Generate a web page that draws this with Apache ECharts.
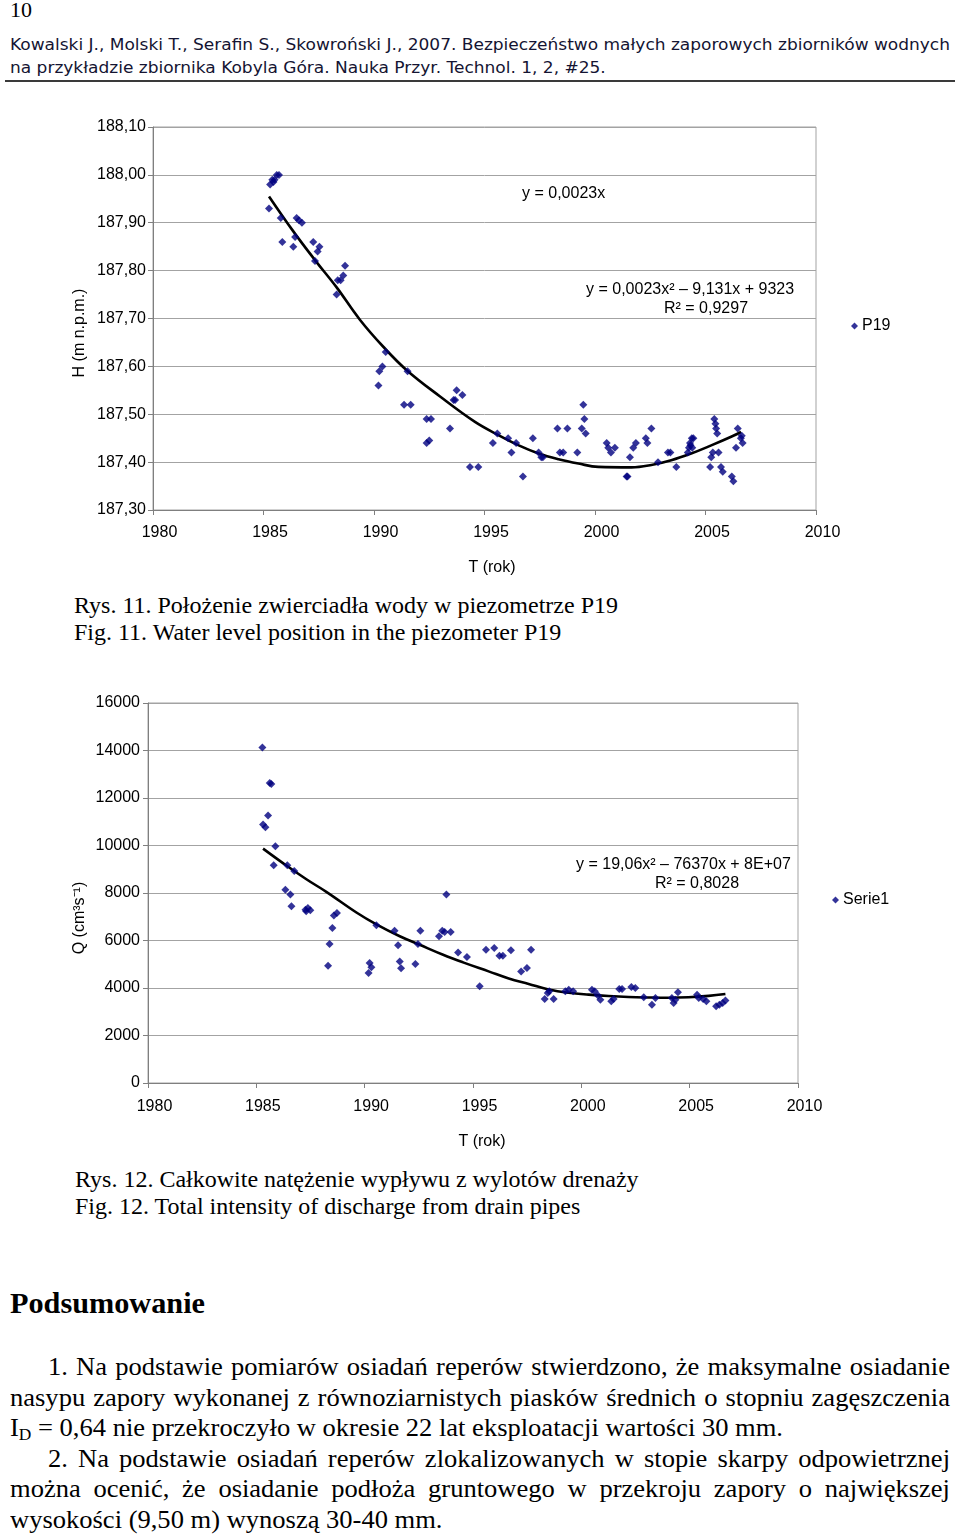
<!DOCTYPE html>
<html><head><meta charset="utf-8">
<script src="https://cdn.jsdelivr.net/npm/echarts@6/dist/echarts.min.js"></script>
<style>
html,body{margin:0;padding:0;background:#fff;}
body{width:960px;height:1537px;position:relative;overflow:hidden;}
.t{position:absolute;white-space:nowrap;color:#000;transform-origin:0 0;}
.serif{font-family:"Liberation Serif","Times New Roman",serif;}
.sans{font-family:"DejaVu Sans",Verdana,sans-serif;color:#141432;}
.chart{position:absolute;left:0;width:960px;}
</style></head>
<body>
<div class="t serif" id="pg" style="left:10px;top:-3px;font-size:22px;line-height:26px;">10</div>
<div class="t sans" id="h1" style="left:10px;top:35px;font-size:16px;line-height:20px;">Kowalski J., Molski T., Serafin S., Skowroński J., 2007. Bezpieczeństwo małych zaporowych zbiorników wodnych</div>
<div class="t sans" id="h2" style="left:10px;top:58px;font-size:16px;line-height:20px;">na przykładzie zbiornika Kobyla Góra. Nauka Przyr. Technol. 1, 2, #25.</div>
<div style="position:absolute;left:5px;top:80px;width:950px;height:2px;background:#3a3a3a;"></div>

<div class="chart" id="c1" style="top:100px;height:490px;"></div>
<div class="t serif" id="r11" style="left:74px;top:592px;font-size:23px;line-height:28px;">Rys. 11. Położenie zwierciadła wody w piezometrze P19</div>
<div class="t serif" id="f11" style="left:74px;top:619px;font-size:23px;line-height:28px;">Fig. 11. Water level position in the piezometer P19</div>

<div class="chart" id="c2" style="top:690px;height:470px;"></div>
<div class="t serif" id="r12" style="left:75px;top:1166px;font-size:23px;line-height:28px;">Rys. 12. Całkowite natężenie wypływu z wylotów drenaży</div>
<div class="t serif" id="f12" style="left:75px;top:1193px;font-size:23px;line-height:28px;">Fig. 12. Total intensity of discharge from drain pipes</div>

<div class="t serif" id="pod" style="left:10px;top:1286px;font-size:29px;line-height:34px;font-weight:bold;">Podsumowanie</div>
<div class="t serif bl" id="b1" data-x="48" data-w="902" data-j="1" style="top:1351px;">1. Na podstawie pomiarów osiadań reperów stwierdzono, że maksymalne osiadanie</div>
<div class="t serif bl" id="b2" data-x="10" data-w="940" data-j="1" style="top:1382px;">nasypu zapory wykonanej z równoziarnistych piasków średnich o stopniu zagęszczenia</div>
<div class="t serif bl" id="b3" data-x="10" data-w="773" data-j="0" style="top:1412px;">I<sub style="font-size:17px;vertical-align:-4px;line-height:0">D</sub> = 0,64 nie przekroczyło w okresie 22 lat eksploatacji wartości 30 mm.</div>
<div class="t serif bl" id="b4" data-x="48" data-w="902" data-j="1" style="top:1443px;">2. Na podstawie osiadań reperów zlokalizowanych w stopie skarpy odpowietrznej</div>
<div class="t serif bl" id="b5" data-x="10" data-w="940" data-j="1" style="top:1473px;">można ocenić, że osiadanie podłoża gruntowego w przekroju zapory o największej</div>
<div class="t serif bl" id="b6" data-x="10" data-w="431" data-j="0" style="top:1504px;">wysokości (9,50 m) wynoszą 30-40 mm.</div>

<script>
// ---------- Chart 1 data: water level in piezometer P19 ----------
const p19Years = [1985.3,1985.4,1985.5,1985.6,1985.7,1985.45,1985.25,1985.78,1985.85,1986.5,1986.6,1986.74,1986.43,1986.35,1987.25,1987.53,1987.45,1987.33,1988.69,1988.61,1988.49,1988.36,1988.31,1990.53,1990.38,1990.24,1990.2,1991.52,1991.36,1991.66,1992.38,1992.58,1992.5,1992.38,1993.44,1993.74,1994.0,1993.6,1993.67,1994.34,1994.72,1995.38,1995.58,1996.07,1996.22,1996.43,1996.74,1997.19,1997.45,1997.57,1997.64,1998.3,1998.41,1998.56,1998.75,1999.2,1999.47,1999.52,1999.4,1999.58,2000.53,2000.6,2000.72,2000.9,2001.43,2001.47,2001.58,2001.73,2001.85,2002.3,2002.37,2002.55,2002.85,2003.3,2003.41,2003.68,2004.2,2004.25,2004.3,2004.38,2004.45,2004.32,2004.4,2005.21,2005.26,2005.33,2005.4,2005.45,2005.48,2005.53,2005.59,2005.7,2005.78,2006.19,2006.26,2006.38,2006.46,2006.6,2006.68,2006.64];
const p19Level = [187.98,187.99,187.99,188.00,188.00,187.985,187.93,187.91,187.86,187.91,187.905,187.90,187.87,187.85,187.86,187.85,187.84,187.82,187.81,187.79,187.78,187.78,187.75,187.63,187.60,187.59,187.56,187.59,187.52,187.52,187.49,187.49,187.445,187.44,187.47,187.55,187.54,187.53,187.53,187.39,187.39,187.44,187.46,187.45,187.42,187.44,187.37,187.45,187.42,187.41,187.41,187.47,187.42,187.42,187.47,187.42,187.52,187.49,187.47,187.46,187.44,187.43,187.42,187.43,187.37,187.37,187.41,187.43,187.44,187.45,187.44,187.47,187.40,187.42,187.42,187.39,187.42,187.43,187.44,187.45,187.45,187.435,187.43,187.39,187.41,187.42,187.49,187.48,187.47,187.46,187.42,187.39,187.38,187.37,187.36,187.43,187.47,187.45,187.44,187.455];
const trend1Years = [1985.25,1986.35,1987.33,1988.31,1989.37,1990.42,1991.48,1992.99,1994.57,1995.65,1996.55,1997.45,1998.35,1999.25,2000.15,2001.65,2002.55,2003.45,2004.35,2005.26,2006.16,2006.61];
const trend1Level = [187.955,187.882,187.822,187.765,187.697,187.641,187.592,187.537,187.484,187.456,187.435,187.418,187.406,187.397,187.390,187.389,187.394,187.404,187.418,187.435,187.453,187.463];
const yTicks1 = ['188,10','188,00','187,90','187,80','187,70','187,60','187,50','187,40','187,30'];

// ---------- Chart 2 data: discharge from drain pipes ----------
const q1Years = [1985.28,1985.62,1985.69,1985.54,1985.31,1985.42,1985.88,1985.8,1986.43,1986.75,1986.34,1986.57,1986.62,1987.3,1987.38,1987.49,1987.27,1988.72,1988.58,1988.51,1988.38,1988.31,1990.23,1990.31,1990.18,1990.54,1991.38,1991.54,1991.62,1991.68,1992.46,1992.34,1992.57,1993.43,1993.58,1993.69,1993.97,1993.77,1994.31,1994.72,1995.31,1995.6,1995.98,1996.22,1996.38,1996.75,1997.22,1997.49,1997.68,1998.31,1998.45,1998.52,1998.72,1999.26,1999.42,1999.62,2000.49,2000.62,2000.77,2000.88,2001.38,2001.49,2001.75,2001.88,2002.31,2002.49,2002.88,2003.26,2003.42,2004.18,2004.26,2004.34,2004.46,2005.34,2005.42,2005.62,2005.77,2006.22,2006.37,2006.52,2006.65];
const q1Flow = [14130,12630,12590,11260,10880,10770,9970,9170,9170,8930,8140,7940,7440,7230,7370,7270,7300,7160,7050,6530,5850,4940,5050,4870,4630,6640,6410,5800,5120,4830,5850,5010,6410,6180,6410,6360,6360,7940,5500,5310,4070,5610,5680,5360,5360,5590,4700,4840,5610,3540,3790,3860,3540,3860,3930,3860,3930,3860,3680,3510,3440,3540,3960,3960,4040,4000,3610,3300,3580,3580,3370,3510,3820,3720,3580,3540,3440,3230,3300,3370,3470];
const trend2Years = [1985.31,1986.23,1987.31,1988.23,1989.62,1990.54,1991.62,1992.54,1993.62,1994.54,1995.72,1996.65,1997.57,1998.49,1999.42,2000.34,2001.26,2002.18,2003.11,2004.03,2004.95,2005.88,2006.65];
const trend2Flow = [9870,9260,8580,8050,7180,6680,6180,5820,5400,5080,4700,4400,4170,3940,3800,3720,3660,3620,3600,3590,3610,3670,3750];
const yTicks2 = ['16000','14000','12000','10000','8000','6000','4000','2000','0'];
const xTicks = ['1980','1985','1990','1995','2000','2005','2010'];

const zip = (a,b) => a.map((v,i)=>[v,b[i]]);
const FONT = '"Liberation Sans", Arial, sans-serif';
const GRID = '#a3a3a3', AXIS = '#7f7f7f';
const FS = 16;

function baseOpt(o){
  return {
    animation:false,
    textStyle:{fontFamily:FONT,color:'#000'},
    grid:{left:o.left,right:o.right,top:o.top,height:o.height,show:true,borderColor:GRID,borderWidth:1,backgroundColor:'transparent'},
    legend:{data:[{name:o.name,icon:'diamond'}],left:o.legLeft,top:o.legTop,padding:0,itemWidth:7,itemHeight:7,itemGap:0,
      textStyle:{fontSize:FS,color:'#000',fontFamily:FONT,padding:[2,0,0,-1]}},
    xAxis:{type:'value',min:1980,max:2010,interval:5,
      axisLine:{show:true,lineStyle:{color:AXIS,width:1}},
      axisTick:{show:true,length:5,lineStyle:{color:AXIS}},
      axisLabel:{color:'#000',fontSize:FS,fontFamily:FONT,margin:o.xMargin,padding:[0,0,0,13],
        formatter:v=>xTicks[Math.round((v-1980)/5)]},
      splitLine:{show:false}},
    yAxis:{type:'value',min:o.ymin,max:o.ymax,interval:o.yint,
      axisLine:{show:true,lineStyle:{color:AXIS,width:1}},
      axisTick:{show:true,length:5,lineStyle:{color:AXIS}},
      axisLabel:{color:'#000',fontSize:FS,fontFamily:FONT,margin:o.yMargin,padding:[o.yPad,0,0,0],
        formatter:v=>o.yTicks[Math.round((o.ymax-v)/o.yint)]},
      splitLine:{show:true,lineStyle:{color:GRID,width:1}}},
    series:[
      {name:o.name,type:'scatter',symbol:'diamond',symbolSize:8,itemStyle:{color:'#000080'},data:o.pts,z:3},
      {name:'trend',type:'line',smooth:0.4,symbol:'none',showSymbol:false,lineStyle:{color:'#000',width:2.6},data:o.trend,z:2,silent:true}
    ],
    graphic:o.graphic
  };
}
function txt(x,y,text,extra){
  return Object.assign({type:'text',x:x,y:y,silent:true,
    style:Object.assign({text:text,fill:'#000',font:FS+'px '+FONT,textAlign:'left',textVerticalAlign:'middle'},extra||{})});
}

const c1 = echarts.init(document.getElementById('c1'),null,{renderer:'canvas'});
c1.setOption(baseOpt({
  left:153,right:144,top:27,height:383,name:'P19',legLeft:851,legTop:218,xMargin:15,yMargin:7,yPad:5,
  ymin:187.3,ymax:188.1,yint:0.1,yTicks:yTicks1,
  pts:zip(p19Years,p19Level),trend:zip(trend1Years,trend1Level),
  graphic:[
    txt(522,94,'y = 0,0023x'),
    txt(586,190,'y = 0,0023x² – 9,131x + 9323'),
    txt(664,209,'R² = 0,9297'),
    Object.assign(txt(80,233,'H (m n.p.m.)',{textAlign:'center'}),{rotation:Math.PI/2}),
    txt(492,468,'T (rok)',{textAlign:'center'})
  ]
}));

const c2 = echarts.init(document.getElementById('c2'),null,{renderer:'canvas'});
c2.setOption(baseOpt({
  left:148,right:162,top:13,height:380,name:'Serie1',legLeft:832,legTop:202,xMargin:16,yMargin:8,yPad:3,
  ymin:0,ymax:16000,yint:2000,yTicks:yTicks2,
  pts:zip(q1Years,q1Flow),trend:zip(trend2Years,trend2Flow),
  graphic:[
    txt(576,175,'y = 19,06x² – 76370x + 8E+07'),
    txt(655,194,'R² = 0,8028'),
    Object.assign(txt(80,228,'Q (cm³s⁻¹)',{textAlign:'center'}),{rotation:Math.PI/2}),
    txt(482,452,'T (rok)',{textAlign:'center'})
  ]
}));

// ---------- text fitting ----------
function w(el){return el.getBoundingClientRect().width;}
function scaleTo(el,target){const s=target/w(el);el.style.transform='scaleX('+s+')';return s;}
function layout(){
  const s1 = scaleTo(document.getElementById('h1'),940);
  document.getElementById('h2').style.transform='scaleX('+s1+')';
  const sc = scaleTo(document.getElementById('r11'),544);
  ['f11','r12','f12'].forEach(id=>document.getElementById(id).style.transform='scaleX('+sc+')');
  scaleTo(document.getElementById('pod'),195);
  const bl = Array.from(document.querySelectorAll('.bl'));
  bl.forEach(el=>{el.style.fontSize='26px';el.style.lineHeight='32px';el.style.left=el.dataset.x+'px';});
  const ref = document.getElementById('b3');
  const s = 773/w(ref);
  bl.forEach(el=>{
    if(el.dataset.j==='1'){
      const n=w(el); const k=(el.textContent.match(/ /g)||[]).length;
      const extra=(Number(el.dataset.w)/s - n)/k;
      el.style.wordSpacing=extra+'px';
    }
    el.style.transform='scaleX('+s+')';
  });
}
if(document.fonts&&document.fonts.ready){document.fonts.ready.then(layout);}else{layout();}
</script>
</body></html>
